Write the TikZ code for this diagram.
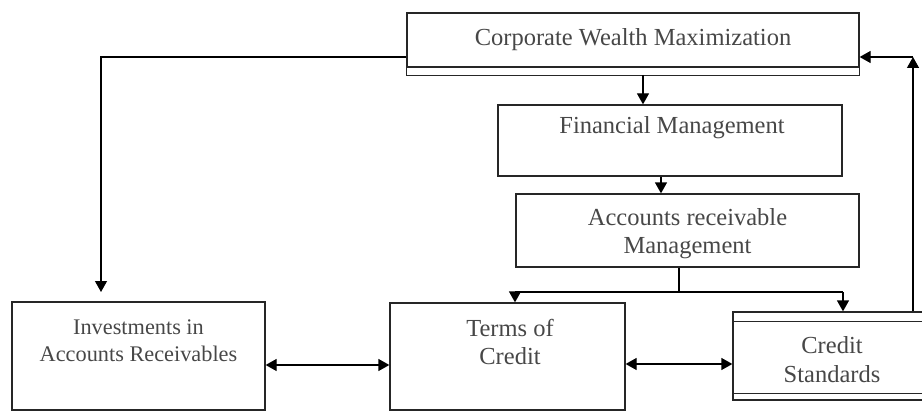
\documentclass[tikz,border=0pt]{standalone}
\usepackage{fontspec}
\setmainfont{Liberation Serif}
\usetikzlibrary{arrows.meta}
\begin{document}
\begin{tikzpicture}[x=1pt,y=-1pt,
  box/.style={draw=black!85, line width=1.3pt, rectangle, inner sep=0pt, anchor=center},
  lbl/.style={text=black!72, align=center, font=\fontsize{24.5}{28.5}\selectfont},
  smalllbl/.style={text=black!72, align=center, font=\fontsize{22.3}{27}\selectfont},
  conn/.style={draw=black, line width=1.3pt},
  arr/.style={conn, -{Triangle[length=11pt,width=12pt]}},
  darr/.style={conn, {Triangle[length=11pt,width=12pt]}-{Triangle[length=11pt,width=12pt]}}]
\useasboundingbox (0,0) rectangle (922,412);
\clip (0,0) rectangle (922,412);

% boxes
\node[box, minimum width=452pt, minimum height=54pt] (corp) at (633,40) {};
\draw[black!85, line width=1.3pt] (corp.south west) -- ++(0,8) coordinate (corpbl) -- (corpbl -| corp.south east) coordinate (corpbr) -- (corp.south east);
\node[box, minimum width=344pt, minimum height=71pt] (fin) at (670,140.5) {};
\node[box, minimum width=343pt, minimum height=73pt] (ar) at (687.5,230.5) {};
\node[box, minimum width=253pt, minimum height=108pt] (inv) at (138.5,356) {};
\node[box, minimum width=235pt, minimum height=107pt] (terms) at (507.5,356.5) {};
\node[box, minimum width=198pt, minimum height=88pt] (cs) at (832,356) {};
\draw[black!85, line width=1.3pt] ([yshift=-10pt]cs.north west) -- ([yshift=-10pt]cs.north east);
\draw[black!85, line width=1.3pt] ([yshift=7pt]cs.south west) -- ([yshift=7pt]cs.south east);

% texts
\node[lbl] (corptext) at (633,40) {Corporate Wealth Maximization};
\node[lbl] (fintext) at (672,128) {Financial Management};
\node[lbl] (artext) at (687.5,233.5) {Accounts receivable\\Management};
\node[smalllbl] (invtext) at (138.5,340.5) {Investments in\\Accounts Receivables};
\node[lbl] (termstext) at (510,342) {Terms of\\Credit};
\node[lbl] (cstext) at (832,359.5) {Credit\\Standards};

% connectors down the chain
\draw[arr] (643,75) coordinate (c1) -- (c1 |- fin.north);
\draw[arr] (fin.south -| 661,0) coordinate (c2) -- (c2 |- ar.north);
\coordinate (split) at (679,292);
\draw[conn] (ar.south -| split) -- (split);
\coordinate (splitl) at (515,292);
\coordinate (splitr) at (843,292);
\draw[conn] (splitl) -- (splitr);
\draw[arr] (splitl) -- (splitl |- terms.north);
\draw[arr] (splitr) -- (splitr |- cs.north);

% left branch
\coordinate (lcorner) at (101,57);
\coordinate (lend) at (101,292);
\draw[arr] (corp.west |- lcorner) -- (lcorner) -- (lend);

% right feedback
\coordinate (rcorner) at (913,57);
\draw[arr] (cs.north -| rcorner) -- (rcorner);
\draw[arr] (rcorner) -- (corp.east |- rcorner);

% two-way links
\draw[darr] (inv.east |- 0,365) -- (terms.west |- 0,365);
\draw[darr] (terms.east |- 0,364) -- (cs.west |- 0,364);
\end{tikzpicture}
\end{document}
